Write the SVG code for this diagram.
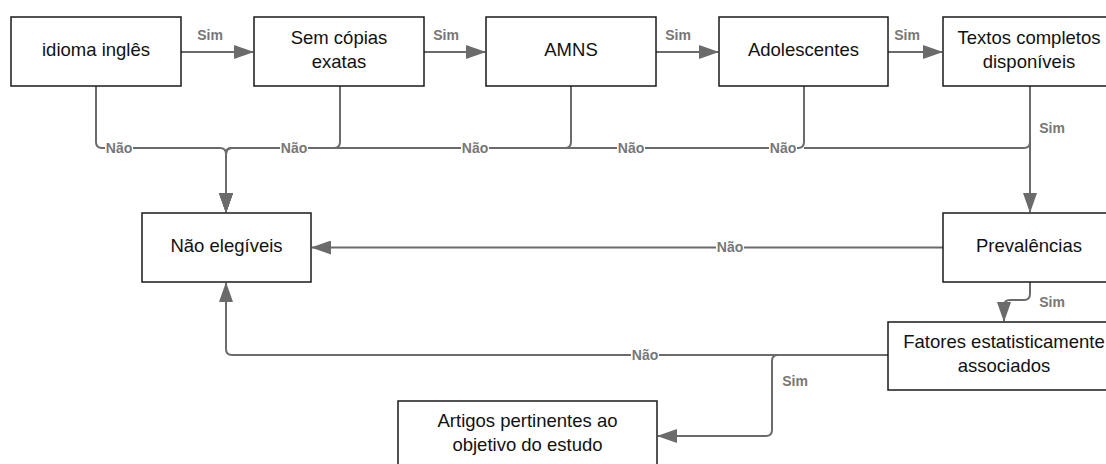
<svg xmlns="http://www.w3.org/2000/svg" width="1106" height="464" viewBox="0 0 1106 464">
<style>
.box{fill:#fff;stroke:#1a1a1a;stroke-width:1.5}
.t{font-family:"Liberation Sans",Arial,sans-serif;font-size:18.5px;fill:#111;text-anchor:middle}
.ln{fill:none;stroke:#6b6b6b;stroke-width:2}
.lb{font-family:"Liberation Sans",Arial,sans-serif;font-size:14px;font-weight:bold;fill:#777;text-anchor:middle}
.bg{fill:#fff}
</style>
<defs>
<marker id="ah" markerWidth="20" markerHeight="14" refX="19" refY="7" orient="auto" markerUnits="userSpaceOnUse">
<path d="M0,0 L20,7 L0,14 Z" fill="#6b6b6b"/>
</marker>
</defs>
<rect width="1106" height="464" fill="#fff"/>
<g id="connectors">
<path class="ln" d="M181,52 H253" marker-end="url(#ah)"/>
<path class="ln" d="M424,52 H485" marker-end="url(#ah)"/>
<path class="ln" d="M656,52 H718" marker-end="url(#ah)"/>
<path class="ln" d="M888,52 H942" marker-end="url(#ah)"/>
<path class="ln" d="M96,86 V142 Q96,148 102,148 H220 Q226,148 226,154 V212" marker-end="url(#ah)"/>
<path class="ln" d="M340,86 V142 Q340,148 334,148 H232 Q226,148 226,154 V212" marker-end="url(#ah)"/>
<path class="ln" d="M571,86 V142 Q571,148 565,148 H232 Q226,148 226,154 V212" marker-end="url(#ah)"/>
<path class="ln" d="M804,86 V142 Q804,148 798,148 H232 Q226,148 226,154 V212" marker-end="url(#ah)"/>
<path class="ln" d="M1030,142 Q1030,148 1024,148 H804"/>
<path class="ln" d="M1030,86 V212" marker-end="url(#ah)"/>
<path class="ln" d="M943,247.5 H312" marker-end="url(#ah)"/>
<path class="ln" d="M1030,282 V294 Q1030,300 1024,300 H1010 Q1004,300 1004,306 V321" marker-end="url(#ah)"/>
<path class="ln" d="M888,355 H232 Q226,355 226,349 V283" marker-end="url(#ah)"/>
<path class="ln" d="M778,355 Q772,355 772,361 V430 Q772,436 766,436 H658" marker-end="url(#ah)"/>
<text class="lb" x="210" y="40">Sim</text>
<text class="lb" x="446" y="40">Sim</text>
<text class="lb" x="678" y="40">Sim</text>
<text class="lb" x="907" y="40">Sim</text>
<text class="lb" x="1052" y="133">Sim</text>
<text class="lb" x="1052" y="307">Sim</text>
<text class="lb" x="795" y="386">Sim</text>
<rect class="bg" x="105" y="141" width="28" height="14"/>
<text class="lb" x="119" y="153">Não</text>
<rect class="bg" x="280" y="141" width="28" height="14"/>
<text class="lb" x="294" y="153">Não</text>
<rect class="bg" x="461" y="141" width="28" height="14"/>
<text class="lb" x="475" y="153">Não</text>
<rect class="bg" x="617" y="141" width="28" height="14"/>
<text class="lb" x="631" y="153">Não</text>
<rect class="bg" x="769" y="141" width="28" height="14"/>
<text class="lb" x="783" y="153">Não</text>
<rect class="bg" x="716" y="240" width="28" height="14"/>
<text class="lb" x="730" y="252">Não</text>
<rect class="bg" x="631" y="348" width="28" height="14"/>
<text class="lb" x="645" y="360">Não</text>
</g>
<g id="n1"><rect class="box" x="11" y="17" width="170" height="69"/><text class="t" x="96" y="56">idioma inglês</text></g>
<g id="n2"><rect class="box" x="254" y="17" width="170" height="69"/><text class="t" x="339" y="43.5">Sem cópias</text><text class="t" x="339" y="67.5">exatas</text></g>
<g id="n3"><rect class="box" x="486" y="17" width="170" height="69"/><text class="t" x="571" y="56">AMNS</text></g>
<g id="n4"><rect class="box" x="719" y="17" width="169" height="69"/><text class="t" x="803.5" y="56">Adolescentes</text></g>
<g id="n5"><rect class="box" x="943" y="17" width="172" height="69"/><text class="t" x="1029" y="43.5">Textos completos</text><text class="t" x="1029" y="67.5">disponíveis</text></g>
<g id="n6"><rect class="box" x="142" y="213" width="169" height="69"/><text class="t" x="226.5" y="251.5">Não elegíveis</text></g>
<g id="n7"><rect class="box" x="943" y="213" width="172" height="69"/><text class="t" x="1029" y="251.5">Prevalências</text></g>
<g id="n8"><rect class="box" x="888" y="322" width="232" height="68"/><text class="t" x="1004" y="347.5">Fatores estatisticamente</text><text class="t" x="1004" y="371.5">associados</text></g>
<g id="n9"><rect class="box" x="398" y="401" width="259" height="68"/><text class="t" x="527.5" y="427">Artigos pertinentes ao</text><text class="t" x="527.5" y="451">objetivo do estudo</text></g>
</svg>
